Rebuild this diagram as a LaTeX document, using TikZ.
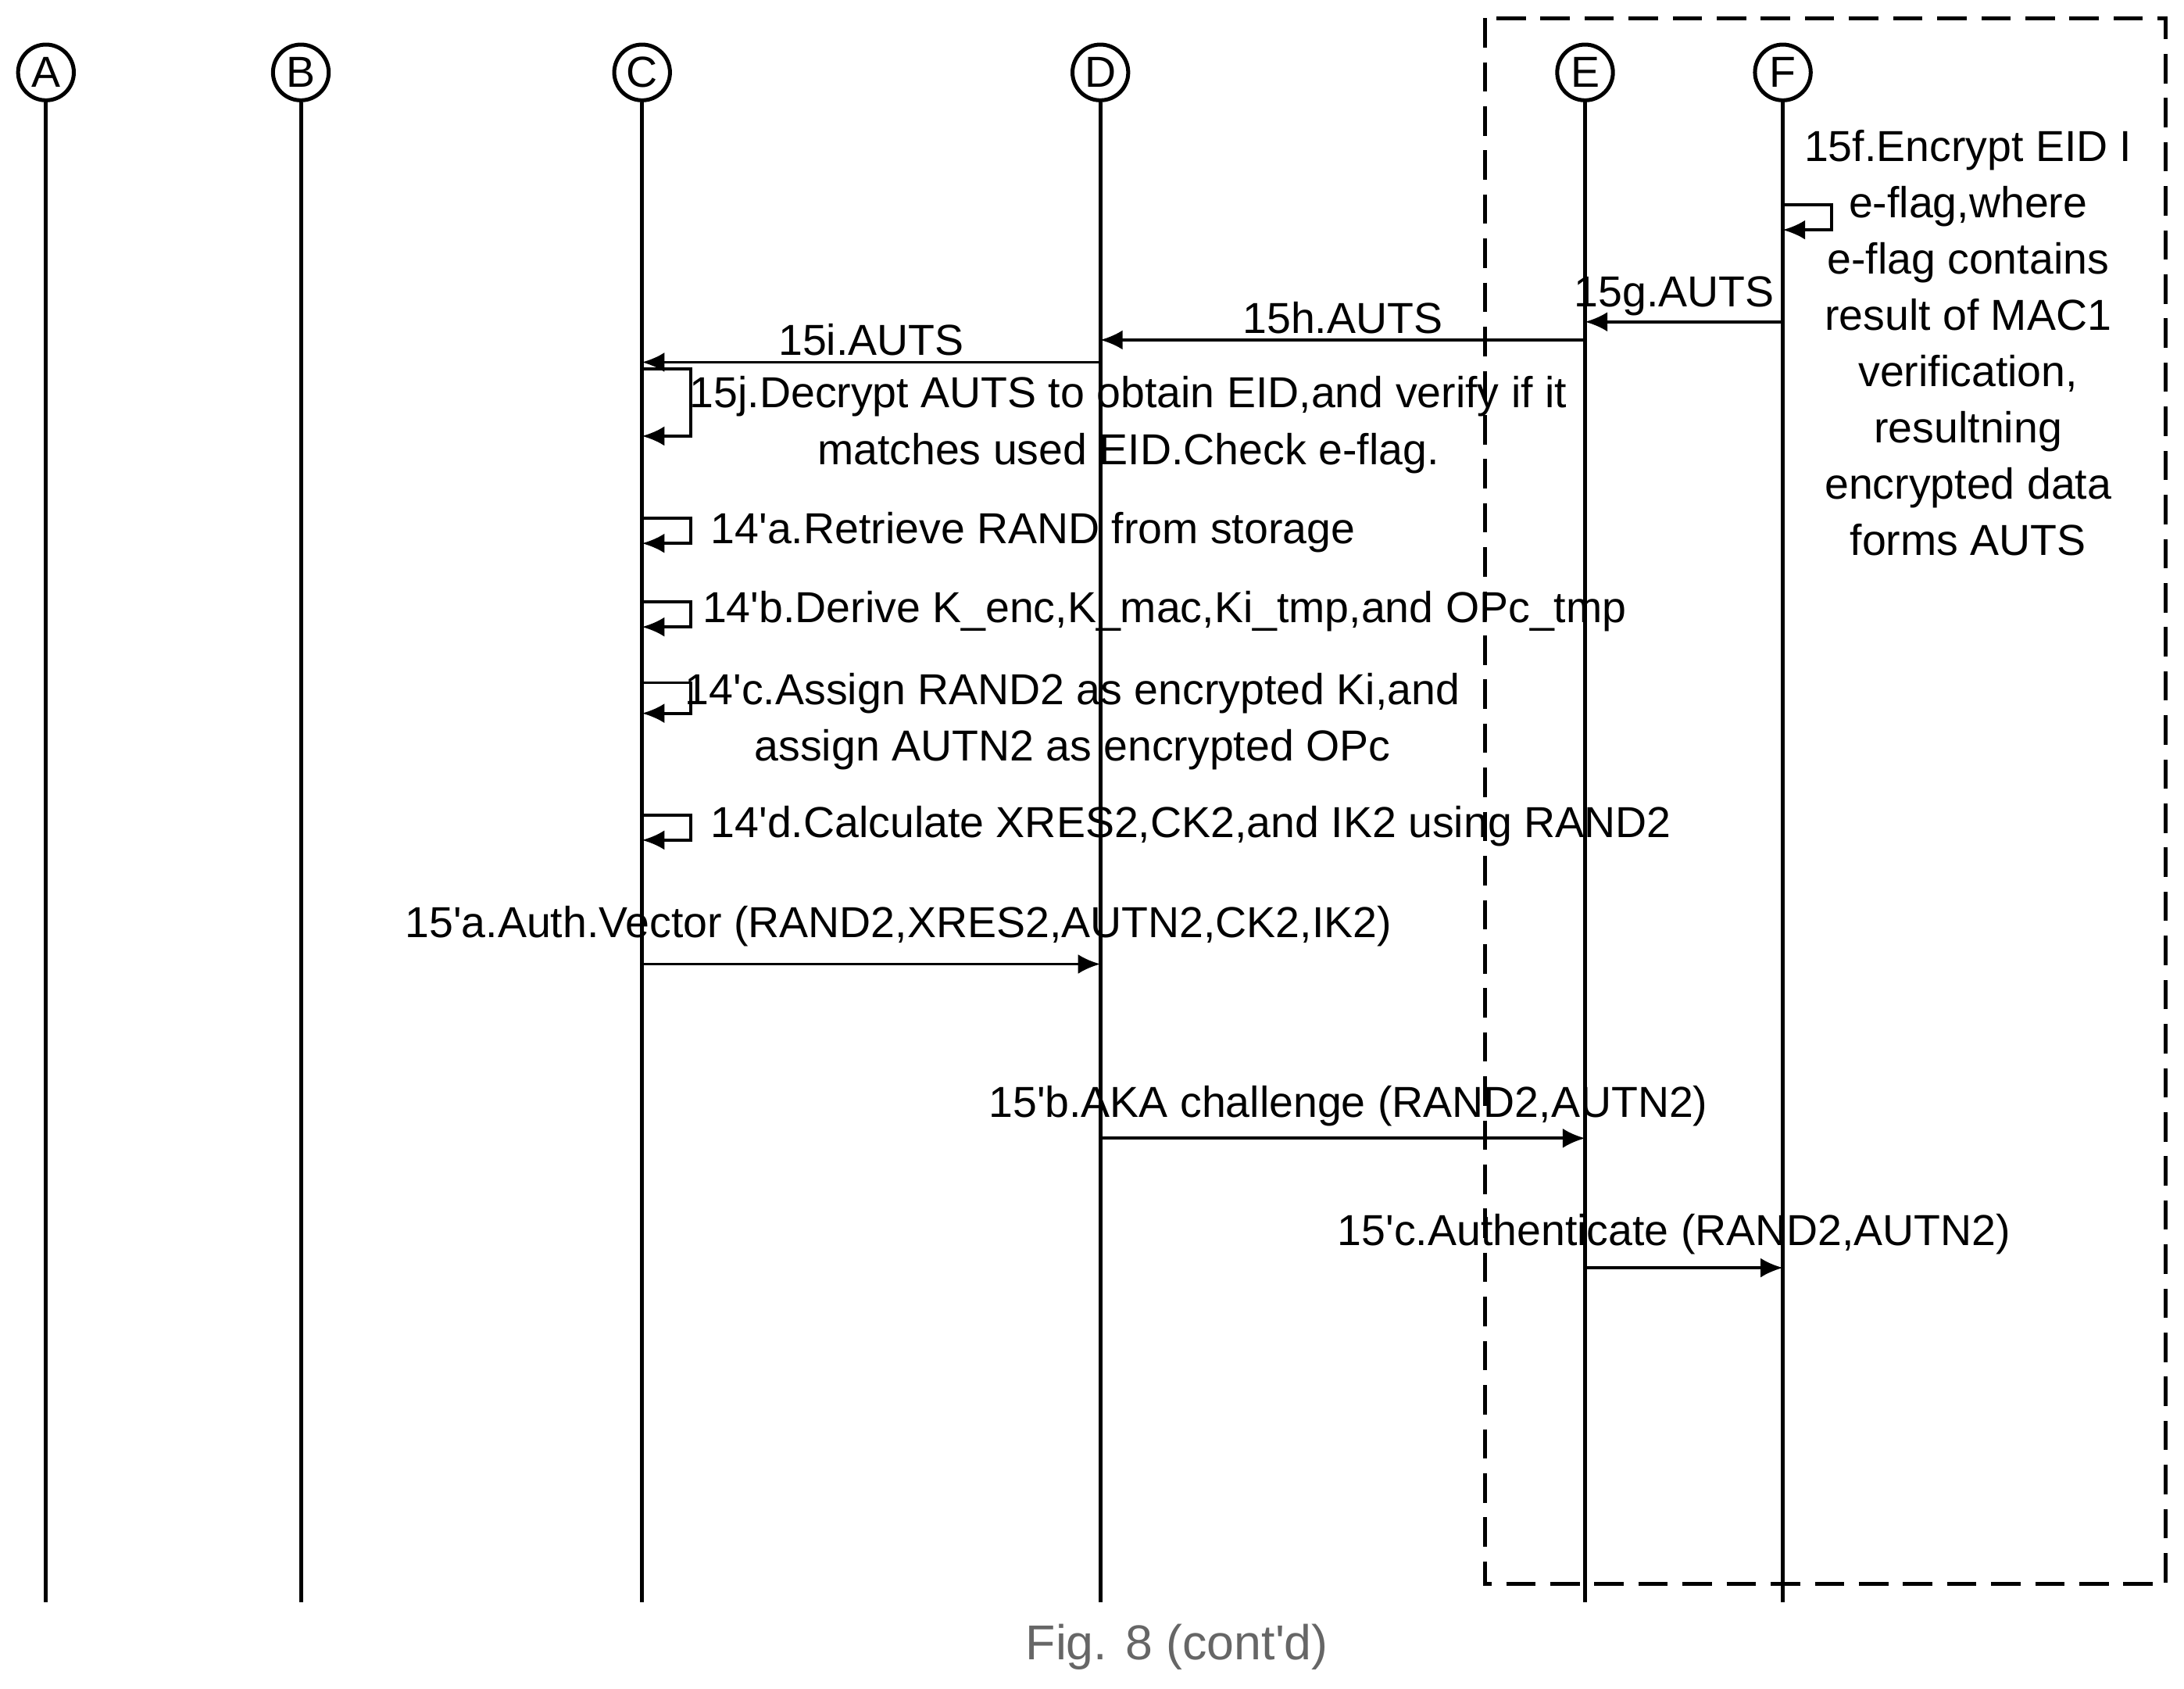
\documentclass[tikz,border=0pt]{standalone}
\usepackage{fontspec}
\setmainfont{Liberation Sans}
\usetikzlibrary{arrows.meta,positioning,calc}
\newcommand{\q}{\textquotesingle}

\begin{document}
\begin{tikzpicture}
  [x=0.01cm,y=-0.01cm,>={Latex[length=1.6mm,width=1.4mm]},
   every node/.style={font=\fontsize{8.85}{11.5}\selectfont},
   entity/.style={circle,draw,thick,minimum size=0.4cm,inner sep=0pt},
   life/.style={thick},
   msg/.style={->,semithick},
   loop/.style={->,semithick},
   lbl/.style={above,inner sep=1pt}]

  \useasboundingbox (0,0) rectangle (1568,1212);

  % entities and lifelines
  \foreach \name/\x in {A/33,B/216,C/461,D/790,E/1138,F/1280} {
    \node [entity] (\name) at (\x,52) {\name};
    \coordinate (\name end) at (\x,1150);
    \draw [life] (\name) -- (\name end);
  }

  % dashed frame
  \draw [thick,dash pattern=on 6pt off 3pt] (1066,13) rectangle (1555,1137);

  % 15f
  \coordinate (f1) at (1280,147);
  \coordinate (f2) at (1280,165);
  \draw [loop] (f1) -- ++(35,0) |- (f2);
  \node [align=center] (t15f) at (1413,246)
    {15f.Encrypt EID I\\e-flag,where\\e-flag contains\\result of MAC1\\verification,\\resultning\\encrypted data\\forms AUTS};

  % 15g, 15h, 15i
  \coordinate (g1) at (1280,231); \coordinate (g2) at (1138,231);
  \draw [msg] (g1) -- (g2) node [lbl,midway,xshift=-2pt] {15g.AUTS};
  \coordinate (h1) at (1138,244); \coordinate (h2) at (790,244);
  \draw [msg] (h1) -- (h2) node [lbl,pos=0.5] {15h.AUTS};
  \coordinate (i1) at (790,260); \coordinate (i2) at (461,260);
  \draw [msg] (i1) -- (i2) node [lbl,pos=0.5] {15i.AUTS};

  % 15j
  \coordinate (j1) at (461,265); \coordinate (j2) at (461,313);
  \draw [loop] (j1) -- ++(35,0) |- (j2);
  \node [align=center] (t15j) at (810,305)
    {15j.Decrypt AUTS to obtain EID,and verify if it\\matches used EID.Check e-flag.};

  % 14'a .. 14'd
  \coordinate (a1) at (461,372); \coordinate (a2) at (461,390);
  \draw [loop] (a1) -- ++(35,0) |- (a2);
  \node [anchor=west] (t14a) at (498,382) {14\q a.Retrieve RAND from storage};

  \coordinate (b1) at (461,432); \coordinate (b2) at (461,450);
  \draw [loop] (b1) -- ++(35,0) |- (b2);
  \node [anchor=west] (t14b) at (492,439) {14\q b.Derive K\_enc,K\_mac,Ki\_tmp,and OPc\_tmp};

  \coordinate (c1) at (461,490); \coordinate (c2) at (461,512);
  \draw [loop] (c1) -- ++(35,0) |- (c2);
  \node [align=center] (t14c) at (770,518)
    {14\q c.Assign RAND2 as encrypted Ki,and\\assign AUTN2 as encrypted OPc};

  \coordinate (d1) at (461,585); \coordinate (d2) at (461,603);
  \draw [loop] (d1) -- ++(35,0) |- (d2);
  \node [anchor=west] (t14d) at (498,593) {14\q d.Calculate XRES2,CK2,and IK2 using RAND2};

  % 15'a, 15'b, 15'c
  \coordinate (pa1) at (461,692); \coordinate (pa2) at (790,692);
  \draw [msg] (pa1) -- (pa2);
  \node (t15pa) at (645,665) {15\q a.Auth.Vector (RAND2,XRES2,AUTN2,CK2,IK2)};

  \coordinate (pb1) at (790,817); \coordinate (pb2) at (1138,817);
  \draw [msg] (pb1) -- (pb2);
  \node (t15pb) at (968,794) {15\q b.AKA challenge (RAND2,AUTN2)};

  \coordinate (pc1) at (1138,910); \coordinate (pc2) at (1280,910);
  \draw [msg] (pc1) -- (pc2);
  \node (t15pc) at (1202,886) {15\q c.Authenticate (RAND2,AUTN2)};

  % caption
  \node [text=black!60,font=\fontsize{10}{12}\selectfont] (cap) at (845,1182) {Fig. 8 (cont\q d)};
\end{tikzpicture}
\end{document}
